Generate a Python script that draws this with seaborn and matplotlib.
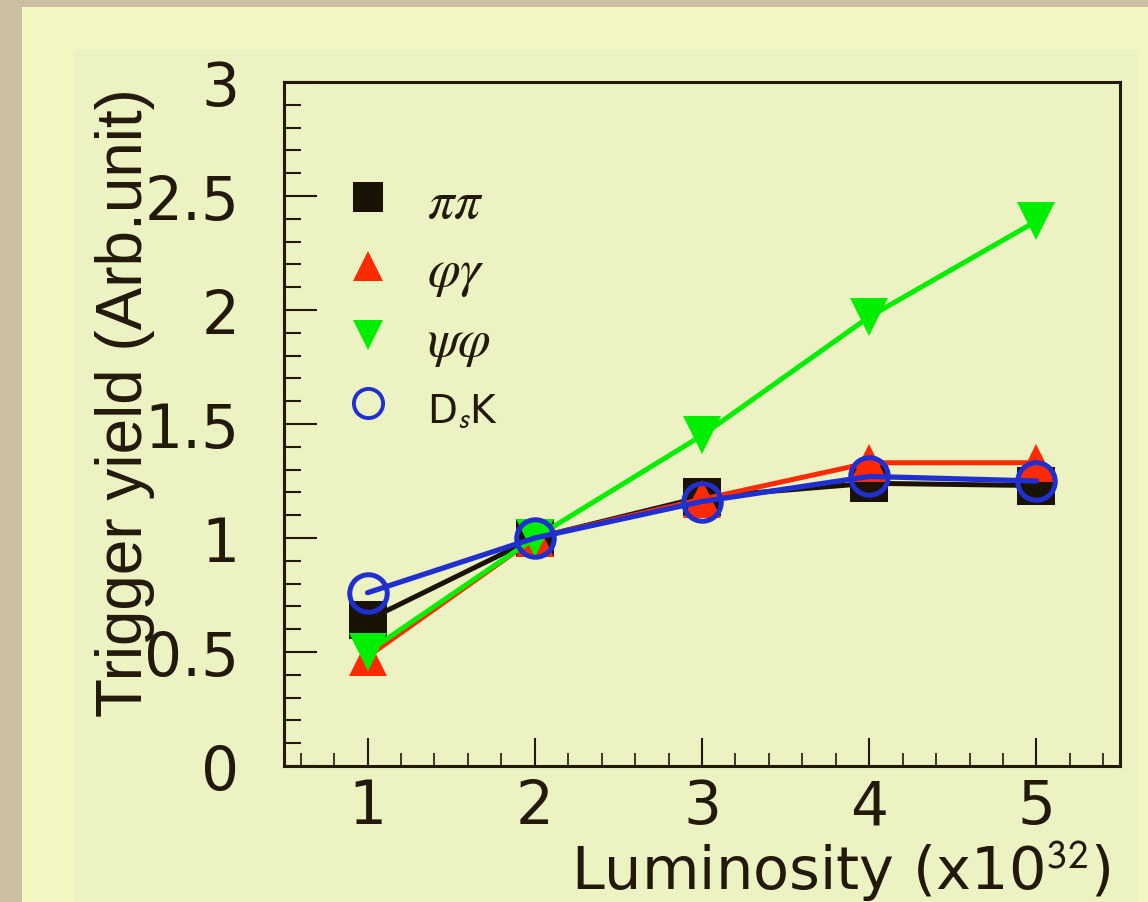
import numpy as np
import pandas as pd
import matplotlib
matplotlib.use("Agg")
import matplotlib.pyplot as plt
from matplotlib.lines import Line2D
from matplotlib.patches import Rectangle
from matplotlib.ticker import MultipleLocator, FuncFormatter
import seaborn as sns

# values
luminosity = [1, 2, 3, 4, 5]
yield_pipi = [0.64, 1.00, 1.18, 1.24, 1.23]
yield_phigamma = [0.48, 1.00, 1.17, 1.33, 1.33]
yield_psiphi = [0.50, 1.00, 1.45, 1.97, 2.39]
yield_dsk = [0.76, 1.00, 1.16, 1.27, 1.25]

labels = [r"$\pi\pi$", r"$\varphi\gamma$", r"$\psi\varphi$", r"D$_{\mathsf{s}}$K"]
label_sizes = [38, 38, 38, 28]
colors = ["#1a1205", "#ff2a00", "#00ee00", "#1f2fd0"]

sns.set_theme(style="ticks")
plt.rcParams["font.family"] = ["DejaVu Sans"]
plt.rcParams["mathtext.fontset"] = "stix"

W, H = 1148, 903
fig = plt.figure(figsize=(W / 100, H / 100), dpi=100)
fig.patch.set_facecolor("#cbbfa3")
fig.patches.append(Rectangle((22 / W, 0), 1 - 22 / W, 1 - 8 / H, transform=fig.transFigure,
                             facecolor="#f2f6c0", edgecolor="none", zorder=-10))
fig.patches.append(Rectangle((73 / W, 0), (1139 - 73) / W, 1 - 50 / H, transform=fig.transFigure,
                             facecolor="#edf2c3", edgecolor="none", zorder=-9))

ax = fig.add_axes([284 / W, 1 - 767 / H, (1120 - 284) / W, (767 - 83) / H])
ax.set_facecolor("#edf2c3")

df = pd.DataFrame({"lum": luminosity, "pipi": yield_pipi, "phigamma": yield_phigamma,
                   "psiphi": yield_psiphi, "dsk": yield_dsk})

sns.lineplot(data=df, x="lum", y="pipi", ax=ax, color=colors[0], marker="s",
             markersize=27, markeredgewidth=0, linewidth=3.6)
sns.lineplot(data=df, x="lum", y="phigamma", ax=ax, color=colors[1], marker="^",
             markersize=27, markeredgewidth=0, linewidth=3.6)
sns.lineplot(data=df, x="lum", y="psiphi", ax=ax, color=colors[2], marker="v",
             markersize=28, markeredgewidth=0, linewidth=3.6)
sns.lineplot(data=df, x="lum", y="dsk", ax=ax, color=colors[3], marker="o",
             markersize=27, markerfacecolor="none", markeredgecolor=colors[3],
             markeredgewidth=3.6, linewidth=3.8)

ax.set_xlim(0.5, 5.5)
ax.set_ylim(0, 3)
ax.xaxis.set_major_locator(MultipleLocator(1))
ax.xaxis.set_minor_locator(MultipleLocator(0.2))
ax.yaxis.set_major_locator(MultipleLocator(0.5))
ax.yaxis.set_minor_locator(MultipleLocator(0.1))
ax.yaxis.set_major_formatter(FuncFormatter(lambda v, p: f"{v:g}"))

ink = "#22190a"
for s in ax.spines.values():
    s.set_visible(True)
    s.set_linewidth(2.2)
    s.set_color(ink)
ax.tick_params(axis="both", which="both", direction="in", color=ink, labelcolor=ink,
               top=False, right=False, width=1.5)
ax.tick_params(axis="y", which="major", length=24, pad=32, labelsize=43)
ax.tick_params(axis="y", which="minor", length=12)
ax.tick_params(axis="x", which="major", length=20, pad=8, labelsize=43)
ax.tick_params(axis="x", which="minor", length=9.5, width=1.2)

ax.set_ylabel("Trigger yield (Arb.unit)", fontsize=46, family=["Liberation Sans"], color=ink)
ax.yaxis.set_label_coords(-0.154, 0.533)
ax.set_xlabel(r"Luminosity (x10$^{\mathsf{32}}$)", fontsize=42.5, color=ink, ha="right")
ax.xaxis.set_label_coords(0.989, -0.105)

handles = [
    Line2D([], [], linestyle="none", marker="s", markersize=21, color=colors[0], markeredgewidth=0),
    Line2D([], [], linestyle="none", marker="^", markersize=22, color=colors[1], markeredgewidth=0),
    Line2D([], [], linestyle="none", marker="v", markersize=22, color=colors[2], markeredgewidth=0),
    Line2D([], [], linestyle="none", marker="o", markersize=21, markerfacecolor="none",
           markeredgecolor=colors[3], markeredgewidth=2.8),
]
leg = ax.legend(handles, labels, loc="upper left", bbox_to_anchor=(0.0754, 0.863),
                frameon=False, fontsize=30, handlelength=1.0, handleheight=1.5,
                handletextpad=0.92, labelspacing=0.38, borderpad=0, borderaxespad=0)
for t, size in zip(leg.get_texts(), label_sizes):
    t.set_color(ink)
    t.set_fontsize(size)

fig.savefig("out.png", dpi=100, facecolor=fig.get_facecolor())
